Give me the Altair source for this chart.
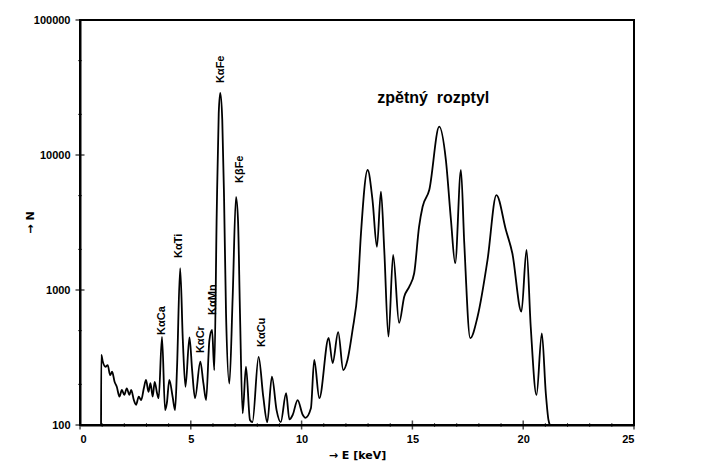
import altair as alt
import pandas as pd

# Spectrum (energy in keV, counts N)
energy = [0.95, 0.96, 1.03, 1.15, 1.25, 1.36, 1.45, 1.56, 1.66, 1.78, 1.89, 2.0, 2.11, 2.23, 2.31,
          2.43, 2.53, 2.65, 2.76, 2.88, 2.98, 3.09, 3.18, 3.28, 3.37, 3.48, 3.55, 3.70, 3.84, 3.92,
          4.03, 4.18, 4.29, 4.38, 4.52, 4.64, 4.76, 4.94, 5.06, 5.19, 5.43, 5.57, 5.69, 5.84, 5.96,
          6.06, 6.17, 6.26, 6.33, 6.42, 6.50, 6.59, 6.74, 6.89, 7.04, 7.13, 7.22, 7.34, 7.49, 7.67,
          7.78, 8.06, 8.27, 8.45, 8.66, 8.87, 9.06, 9.30, 9.45, 9.60, 9.82, 10.05, 10.17, 10.42,
          10.57, 10.80, 11.22, 11.40, 11.65, 11.88, 12.07, 12.30, 12.53, 12.68, 12.98, 13.20, 13.40,
          13.58, 13.73, 13.92, 14.13, 14.40, 14.63, 14.86, 15.08, 15.30, 15.46, 15.76, 16.21, 16.51,
          16.74, 16.93, 17.19, 17.34, 17.61, 17.94, 18.39, 18.79, 19.22, 19.51, 19.92, 20.15, 20.34,
          20.60, 20.84, 21.02, 21.14, 21.20]
counts = [100, 330, 294, 270, 278, 234, 248, 209, 192, 162, 182, 167, 187, 167, 182,
          153, 141, 162, 153, 187, 216, 176, 204, 162, 209, 171, 158, 450, 129, 145,
          216, 162, 129, 270, 1450, 426, 192, 446, 255, 158, 294, 203, 153, 426, 506,
          255, 3700, 20300, 28800, 18200, 4900, 670, 203, 890, 4900, 3300, 670, 122, 270, 109,
          105, 320, 162, 105, 228, 129, 105, 172, 110, 119, 153, 119, 113, 133,
          303, 158, 441, 288, 488, 255, 303, 506, 1000, 2640, 7740, 4640, 2090,
          5350, 1980, 451, 1820, 570, 892, 1060, 1330, 2940, 4140, 5500, 16200, 9200,
          3300, 1580, 7740, 2230, 440, 634, 1670, 5040, 2780, 1870, 691, 1980, 534,
          167, 478, 172, 109, 100]

# Peak labels
peak_labels = ["KαCa", "KαTi", "KαCr", "KαMn", "KαFe", "KβFe", "KαCu"]
peak_e = [3.72, 4.49, 5.48, 6.02, 6.38, 7.24, 8.23]
peak_n = [464, 1726, 341, 653, 34100, 6200, 378]

note_text = ["zpětný\u00a0\u00a0rozptyl"]
note_e = [15.94]
note_n = [26400]

x_major = [0, 5, 10, 15, 20, 25]
x_minor = [i for i in range(26) if i % 5 != 0]
y_major = [100, 1000, 10000, 100000]
y_minor = [200, 500, 2000, 5000, 20000, 50000]

FONT = "Liberation Sans"
TFONT = "DejaVu Sans"

spec = pd.DataFrame({"E": energy, "N": counts})
labels = pd.DataFrame({"E": peak_e, "N": peak_n, "t": peak_labels})
note = pd.DataFrame({"E": note_e, "N": note_n, "t": note_text})

xs = alt.Scale(domain=[0, 25], nice=False)
ys = alt.Scale(type="log", domain=[100, 100000], nice=False)

x_axis = alt.Axis(values=x_major, title="→ E [keV]", ticks=False, grid=False,
                  labelPadding=8, domainWidth=2, domainColor="black",
                  labelFont=FONT, labelFontWeight="bold", labelFontSize=11, labelColor="black",
                  titleFont=TFONT, titleFontWeight="bold", titleFontSize=11, titleColor="black",
                  titleX=277, titleY=30, titleBaseline="middle")
y_axis = alt.Axis(values=y_major, title="→ N", ticks=False, grid=False, format="d",
                  labelPadding=10, domainWidth=2, domainColor="black",
                  labelFont=FONT, labelFontWeight="bold", labelFontSize=11, labelColor="black",
                  titleFont=TFONT, titleFontWeight="bold", titleFontSize=11, titleColor="black",
                  titleAngle=270, titleX=-50, titleY=202, titleAlign="center",
                  titleBaseline="middle")

line = alt.Chart(spec).mark_line(color="black", strokeWidth=1.8, interpolate="monotone").encode(
    x=alt.X("E:Q", scale=xs, axis=x_axis),
    y=alt.Y("N:Q", scale=ys, axis=y_axis),
)

xmaj = alt.Chart(pd.DataFrame({"E": x_major})).mark_tick(
    color="black", orient="vertical", size=9, thickness=1.5).encode(
    x=alt.X("E:Q", scale=xs), y=alt.datum(100, scale=ys))
xmin = alt.Chart(pd.DataFrame({"E": x_minor})).mark_tick(
    color="black", orient="vertical", size=4, thickness=1).encode(
    x=alt.X("E:Q", scale=xs), y=alt.datum(100, scale=ys))
ymaj = alt.Chart(pd.DataFrame({"N": y_major})).mark_tick(
    color="black", orient="horizontal", size=9, thickness=1.5).encode(
    y=alt.Y("N:Q", scale=ys), x=alt.datum(0, scale=xs))
ymin = alt.Chart(pd.DataFrame({"N": y_minor})).mark_tick(
    color="black", orient="horizontal", size=4, thickness=1).encode(
    y=alt.Y("N:Q", scale=ys), x=alt.datum(0, scale=xs))

peak_text = alt.Chart(labels).mark_text(
    angle=270, align="left", baseline="middle", font=FONT, fontWeight="bold",
    fontSize=11, color="black").encode(
    x=alt.X("E:Q", scale=xs), y=alt.Y("N:Q", scale=ys), text="t:N")

note_mark = alt.Chart(note).mark_text(
    align="center", baseline="middle", font=FONT, fontWeight="bold",
    fontSize=16, color="black").encode(
    x=alt.X("E:Q", scale=xs), y=alt.Y("N:Q", scale=ys), text="t:N")

chart = alt.layer(line, xmin, xmaj, ymin, ymaj, peak_text, note_mark).properties(
    width=554, height=405,
    autosize=alt.AutoSizeParams(type="none"),
    padding={"left": 80, "top": 20, "right": 67, "bottom": 39},
    background="white",
).configure_view(stroke="black", strokeWidth=2)

chart.save("out.html", embed_options={"renderer": "svg", "actions": False})
